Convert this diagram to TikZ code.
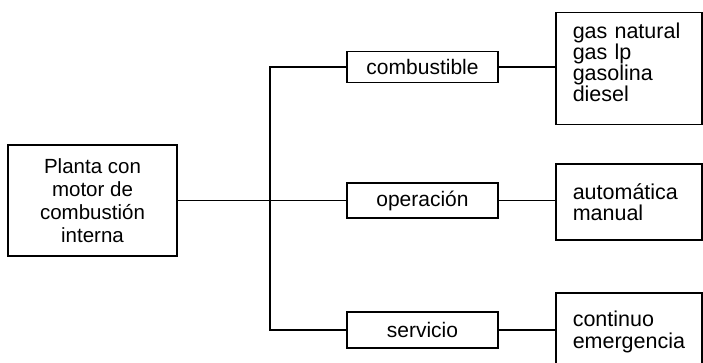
\documentclass[tikz,border=0pt]{standalone}
\usepackage{fontspec}
\setmainfont{Liberation Sans}
\begin{document}
\begin{tikzpicture}[x=1pt,y=-1pt,line width=1.5pt,
  every node/.style={font=\fontsize{21}{23}\selectfont},
  box/.style={draw,rectangle,inner sep=0pt},
  catbox/.style={box,minimum width=151pt,minimum height=31pt},
  listbox/.style={box,align=left,text width=130pt,inner xsep=8pt,anchor=west,font=\fontsize{21.5}{21}\selectfont}]
\useasboundingbox[fill=white] (0,0) rectangle (703,362);
\node[box,align=center,minimum width=169pt,minimum height=111pt,font=\fontsize{20.5}{23}\selectfont] (planta) at (92.5,200.5) {Planta con\\motor de\\combustión\\interna};
\node[catbox] (comb) at (422.5,67) {combustible};
\node[catbox,minimum height=35pt] (oper) at (422.5,200.5) {operación};
\node[catbox,minimum height=36pt] (serv) at (422.5,330) {servicio};
\node[listbox,minimum height=112pt] (gas) at (555,68.5) {\hspace*{9pt}gas natural\\\hspace*{9pt}gas lp\\\hspace*{9pt}gasolina\\\hspace*{9pt}diesel\\[-8pt]\mbox{}};
\node[listbox,minimum height=76pt] (auto) at (555,202) {\hspace*{9pt}automática\\\hspace*{9pt}manual};
\node[listbox,minimum height=78pt,font=\fontsize{21.5}{22.5}\selectfont] (cont) at (555,332) {\hspace*{9pt}continuo\\\hspace*{9pt}emergencia};
\coordinate (top) at (270,67);
\coordinate (bot) at (270,330);
\draw (planta.east) -- (oper.west);
\draw (comb.west) -- (top) -- (bot) -- (serv.west);
\draw (comb.east) -- (gas.west |- comb.east);
\draw (oper.east) -- (auto.west |- oper.east);
\draw (serv.east) -- (cont.west |- serv.east);
\end{tikzpicture}
\end{document}
